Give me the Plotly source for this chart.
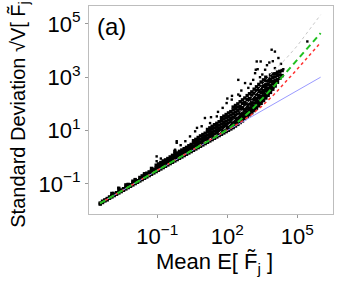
import plotly.graph_objects as go

# ---------------- data ----------------
# scatter cloud, organised in columns: log10(mean) of column, log10(sd) values in column
cloud_log_mean = [
    -3.45, -3.35, -3.25, -3.15, -3.05, -2.95, -2.85, -2.75, -2.65, -2.55,
    -2.45, -2.35, -2.25, -2.15, -2.05, -1.95, -1.85, -1.75, -1.65, -1.55,
    -1.45, -1.35, -1.25, -1.15, -1.05, -0.95, -0.85, -0.75, -0.65, -0.55,
    -0.45, -0.35, -0.25, -0.15, -0.05, 0.05, 0.15, 0.25, 0.35, 0.45,
    0.55, 0.65, 0.75, 0.85, 0.95, 1.05, 1.15, 1.25, 1.35, 1.45,
    1.55, 1.65, 1.75, 1.85, 1.95, 2.05, 2.15, 2.25, 2.35, 2.45,
    2.55, 2.65, 2.75, 2.85, 2.95, 3.05, 3.15, 3.25, 3.35, 3.45,
    3.55, 3.65, 3.75, 3.85, 3.95, 4.05, 4.15, 4.25, 4.35,
]
cloud_log_sd = [
    [-1.76, -1.72], [-1.70, -1.65], [-1.64, -1.60], [-1.60, -1.55], [-1.54, -1.49],
    [-1.49, -1.44, -1.36], [-1.44, -1.39], [-1.39, -1.33], [-1.34, -1.28, -1.17], [-1.29, -1.23],
    [-1.24, -1.18], [-1.19, -1.13, -1.04], [-1.14, -1.08, -1.02], [-1.09, -1.03], [-1.04, -0.97, -0.90],
    [-0.99, -0.93, -0.84], [-0.94, -0.88], [-0.89, -0.83, -0.76], [-0.84, -0.78, -0.70], [-0.79, -0.73, -0.66, -0.62],
    [-0.74, -0.68, -0.60], [-0.69, -0.63, -0.55], [-0.64, -0.57, -0.50, -0.42], [-0.59, -0.52, -0.45], [-0.54, -0.47, -0.40, -0.30],
    [-0.49, -0.42, -0.35, -0.25], [-0.44, -0.37, -0.29, -0.20], [-0.39, -0.32, -0.24, -0.14], [-0.34, -0.27, -0.19, -0.10], [-0.29, -0.22, -0.13, -0.05],
    [-0.24, -0.17, -0.08, 0.01], [-0.19, -0.12, -0.03, 0.07], [-0.14, -0.07, 0.02, 0.12, 0.22], [-0.09, -0.02, 0.07, 0.16], [-0.04, 0.03, 0.12, 0.22],
    [0.01, 0.08, 0.17, 0.27], [0.06, 0.13, 0.22, 0.32], [0.11, 0.18, 0.27, 0.37], [0.16, 0.23, 0.32, 0.43], [0.21, 0.28, 0.37, 0.48],
    [0.26, 0.33, 0.42, 0.53, 0.62], [0.31, 0.38, 0.47, 0.58, 0.67], [0.36, 0.43, 0.52, 0.63, 0.74], [0.41, 0.48, 0.57, 0.68, 0.80], [0.46, 0.53, 0.62, 0.73, 0.85],
    [0.51, 0.58, 0.67, 0.78, 0.90], [0.56, 0.63, 0.72, 0.83, 0.95, 1.04], [0.61, 0.68, 0.77, 0.88, 1.00, 1.10], [0.66, 0.73, 0.82, 0.93, 1.05, 1.16], [0.71, 0.78, 0.87, 0.98, 1.10, 1.22],
    [0.76, 0.83, 0.92, 1.03, 1.15, 1.27], [0.81, 0.88, 0.97, 1.08, 1.20, 1.33], [0.86, 0.93, 1.02, 1.13, 1.25, 1.38, 1.48], [0.91, 0.98, 1.07, 1.18, 1.30, 1.43, 1.54], [0.96, 1.03, 1.12, 1.23, 1.35, 1.48, 1.60],
    [1.01, 1.08, 1.17, 1.28, 1.40, 1.53, 1.66], [1.06, 1.13, 1.22, 1.33, 1.45, 1.58, 1.71], [1.11, 1.18, 1.27, 1.38, 1.50, 1.63, 1.77, 1.88], [1.17, 1.24, 1.33, 1.44, 1.56, 1.69, 1.82, 1.94], [1.23, 1.30, 1.39, 1.50, 1.62, 1.75, 1.88, 2.00],
    [1.30, 1.38, 1.45, 1.57, 1.66, 1.81, 1.90, 2.08], [1.36, 1.46, 1.55, 1.63, 1.77, 1.86, 2.02, 2.15], [1.45, 1.51, 1.62, 1.73, 1.81, 1.96, 2.05, 2.22], [1.52, 1.60, 1.67, 1.80, 1.91, 2.00, 2.16, 2.31], [1.59, 1.65, 1.77, 1.85, 1.99, 2.12, 2.20, 2.38],
    [1.67, 1.75, 1.84, 1.95, 2.04, 2.19, 2.33, 2.45], [1.75, 1.83, 1.90, 2.03, 2.15, 2.24, 2.40, 2.55], [1.84, 1.90, 2.01, 2.12, 2.21, 2.36, 2.50, 2.64], [1.93, 2.01, 2.08, 2.22, 2.31, 2.46, 2.58, 2.73], [2.02, 2.10, 2.19, 2.28, 2.42, 2.55, 2.64, 2.82],
    [2.12, 2.18, 2.29, 2.40, 2.50, 2.65, 2.77, 2.90], [2.22, 2.30, 2.37, 2.50, 2.62, 2.72, 2.87, 3.00], [2.32, 2.40, 2.49, 2.58, 2.72, 2.85, 2.94], [2.43, 2.51, 2.61, 2.70, 2.84, 2.93, 3.08], [2.55, 2.62, 2.75, 2.85, 2.99, 3.12],
    [2.67, 2.77, 2.87, 3.01, 3.13], [2.81, 2.91, 3.06, 3.19], [2.96, 3.09, 3.22], [3.06, 3.25],
]
# isolated points above the cloud (log10 mean, log10 sd)
outlier_log_mean = [
    3.90, 4.04, 4.19, 3.80, 3.26, 3.62, 4.04, 3.11, 3.19, 2.47, 2.76, 4.12, 5.43,
    -0.17, 0.40, 0.90, 1.26, 1.04, 1.97, 2.19, 2.47, 2.54, 2.33, 1.55, 0.62,
    -0.17, -0.24, -1.03, -1.03, -0.85, -1.53, -1.96, -2.31, -2.67, -2.89,
    3.50, 3.70, 3.00, 2.90, 3.40, 2.60, 2.20, 1.80, 1.30, 0.70, 4.30, 4.40,
    3.95, 3.30, 2.00, 1.60, 0.20, 0.00, 3.43, 3.22,
]
outlier_log_sd = [
    4.03, 3.96, 3.72, 3.55, 3.59, 3.28, 3.34, 2.90, 3.15, 2.90, 2.78, 3.15, 4.34,
    0.54, 0.78, 1.16, 1.28, 1.47, 2.03, 2.16, 2.35, 2.30, 1.91, 1.53, 0.97,
    0.60, 0.28, 0.03, -0.15, -0.05, -0.65, -0.84, -1.03, -1.15, -1.34,
    3.10, 3.45, 2.75, 2.60, 3.00, 2.50, 2.30, 1.85, 1.50, 1.10, 3.50, 3.30,
    3.60, 3.30, 2.20, 1.70, 0.60, 0.45, 3.59, 3.28,
]

# model curves
line_mean = [3.5e-4, 1e-2, 1e-1, 1, 3.16, 10, 31.6, 100, 316, 1e3, 3160, 1e4, 3.16e4, 1e5, 3.16e5, 1e6]
sd_blue = [0.0187, 0.1, 0.316, 1, 1.78, 3.16, 5.62, 10, 17.8, 31.6, 56.2, 100, 178, 316, 562, 1000]
sd_red = [0.0187, 0.1, 0.316, 1, 1.78, 3.17, 5.66, 10.2, 18.9, 37.4, 84.5, 223, 655, 2020, 6334, 19975]
sd_green = [0.0187, 0.1, 0.316, 1, 1.78, 3.19, 5.8, 10.95, 22.7, 54.8, 152, 458, 1425, 4483, 14153, 44733]
sd_gray = [0.0187, 0.1, 0.317, 1.02, 1.9, 3.55, 6.6, 14, 40, 141, 500, 1780, 4800, 15100, 57500, 218800]

x_tickvals = [1e-1, 1e2, 1e5]
x_ticktext = ["10<sup>\u22121</sup>", "10<sup>2</sup>", "10<sup>5</sup>"]
y_tickvals = [1e-1, 1e1, 1e3, 1e5]
y_ticktext = ["10<sup>\u22121</sup>", "10<sup>1</sup>", "10<sup>3</sup>", "10<sup>5</sup>"]

x_title = "Mean E[ F\u0303<sub>j</sub> ]"
y_title = "Standard Deviation \u221AV[ F\u0303<sub>j</sub> ]"

# ---------------- figure ----------------
core_x = [10 ** m for m, col in zip(cloud_log_mean, cloud_log_sd) for _ in col]
core_y = [10 ** s for col in cloud_log_sd for s in col]
out_x = [10 ** m for m in outlier_log_mean]
out_y = [10 ** s for s in outlier_log_sd]

FONT = "Liberation Sans, Arial, Helvetica, sans-serif"

fig = go.Figure()
fig.add_trace(go.Scatter(x=core_x, y=core_y, mode="markers",
                         marker=dict(symbol="square", size=3.4, color="black", line=dict(width=0)),
                         hoverinfo="skip"))
fig.add_trace(go.Scatter(x=out_x, y=out_y, mode="markers",
                         marker=dict(symbol="square", size=2.4, color="black", line=dict(width=0)),
                         hoverinfo="skip"))
fig.add_trace(go.Scatter(x=line_mean, y=sd_gray, mode="lines",
                         line=dict(color="#c8c8c8", width=1, dash="dot")))
fig.add_trace(go.Scatter(x=line_mean, y=sd_blue, mode="lines",
                         line=dict(color="#9a9aff", width=1)))
fig.add_trace(go.Scatter(x=line_mean, y=sd_red, mode="lines",
                         line=dict(color="#ff3030", width=1.5, dash="3px,3px")))
fig.add_trace(go.Scatter(x=line_mean, y=sd_green, mode="lines",
                         line=dict(color="#20c020", width=2, dash="6px,4px")))

axis_common = dict(type="log", showgrid=False, zeroline=False, showline=True, mirror=True,
                   linecolor="#bdbdbd", linewidth=1, ticks="outside", ticklen=3,
                   tickcolor="#999999", automargin=False,
                   tickfont=dict(family=FONT, size=22, color="black"))

fig.update_layout(
    width=338, height=286,
    margin=dict(l=89, r=5, t=6, b=72),
    paper_bgcolor="white", plot_bgcolor="white",
    showlegend=False,
    hovermode=False,
    font=dict(family=FONT, color="black"),
    xaxis=dict(axis_common, range=[-3.93, 6.53], tickvals=x_tickvals, ticktext=x_ticktext),
    yaxis=dict(axis_common, range=[-2.13, 5.67], tickvals=y_tickvals, ticktext=y_ticktext),
    annotations=[
        dict(text="(a)", xref="paper", yref="paper", x=0.025, y=0.9,
             xanchor="left", yanchor="middle", showarrow=False,
             font=dict(family=FONT, size=24, color="black")),
        dict(text=x_title, xref="paper", yref="paper", x=0.516, y=-0.237,
             xanchor="center", yanchor="middle", showarrow=False,
             font=dict(family=FONT, size=22, color="black")),
        dict(text=y_title, xref="paper", yref="paper", x=-0.287, y=0.506,
             xanchor="center", yanchor="middle", showarrow=False, textangle=-90,
             font=dict(family=FONT, size=20, color="black")),
    ],
)

fig.write_html("out.html", config={"displayModeBar": False, "staticPlot": True},
               post_script="document.body.style.margin='0';")
